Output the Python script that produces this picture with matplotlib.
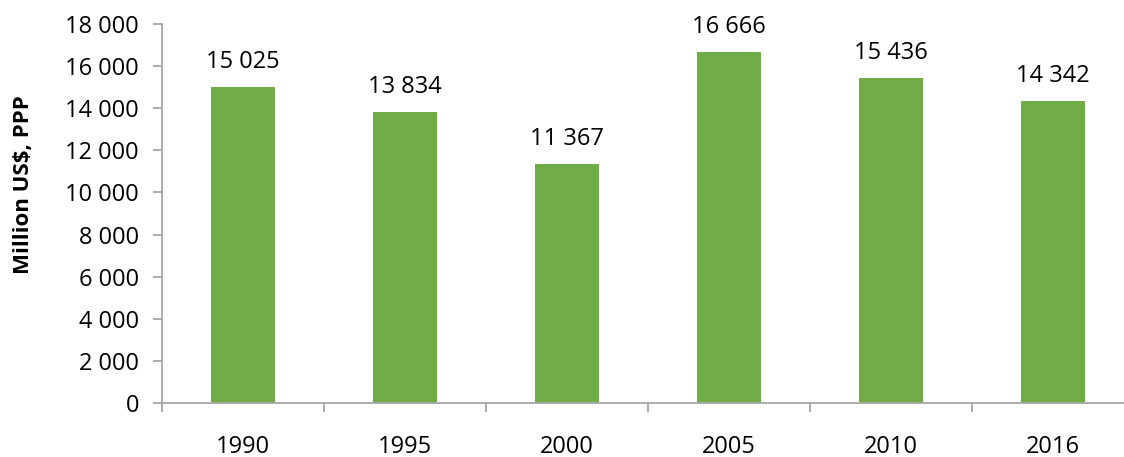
import matplotlib.pyplot as plt
from matplotlib.ticker import FuncFormatter, FixedLocator, NullFormatter

years = ['1990', '1995', '2000', '2005', '2010', '2016']
values = [15025, 13834, 11367, 16666, 15436, 14342]

plt.rcParams['font.family'] = ['Open Sans', 'DejaVu Sans']

green = '#70AD47'
axcol = '#A6A6A6'

fig = plt.figure(figsize=(11.24, 4.57), dpi=100)
ax = fig.add_axes([162 / 1124, 54 / 457, 1 - 162 / 1124, 379 / 457])

x = list(range(len(years)))
ax.bar(x, values, width=0.4, color=green)

for xi, v in zip(x, values):
    ax.annotate('{:,}'.format(v).replace(',', ' '), xy=(xi, v), xytext=(0, 13.5),
                textcoords='offset points', ha='center', va='baseline', fontsize=17)

ax.set_ylim(0, 18000)
ax.set_xlim(-0.5, 5.5 - 10 / 162)
ax.set_yticks(range(0, 18001, 2000))
ax.yaxis.set_major_formatter(FuncFormatter(lambda v, p: '{:,}'.format(int(v)).replace(',', ' ')))

ax.set_xticks(x)
ax.set_xticklabels(years)
ax.xaxis.set_minor_locator(FixedLocator([i - 0.5 for i in range(len(years) + 1)]))
ax.xaxis.set_minor_formatter(NullFormatter())
ax.tick_params(axis='x', which='major', length=0, pad=23, labelsize=17)
ax.tick_params(axis='x', which='minor', length=6.5, color=axcol, width=1.3)
ax.tick_params(axis='y', length=6.5, color=axcol, width=1.3, labelsize=17, pad=10)

for s in ['top', 'right']:
    ax.spines[s].set_visible(False)
for s in ['left', 'bottom']:
    ax.spines[s].set_color(axcol)
    ax.spines[s].set_linewidth(1.3)

ax.set_ylabel('Million US\\$, PPP', fontsize=16, fontweight='bold')
ax.yaxis.set_label_coords(-0.133, 0.575)

fig.savefig('out.png', dpi=100)
